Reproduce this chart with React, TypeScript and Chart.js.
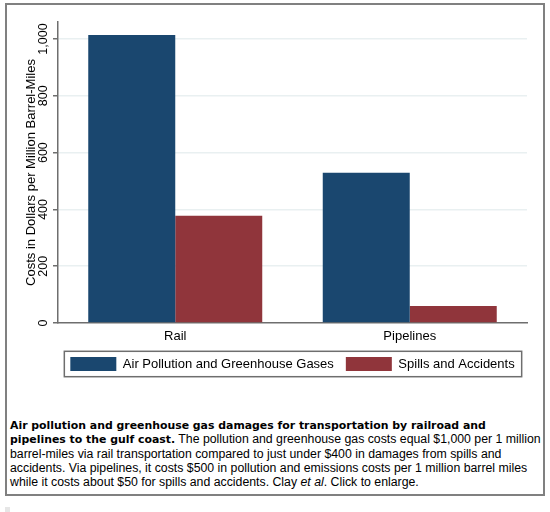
import React, { useEffect, useRef } from "react";
import { Chart, registerables } from "chart.js";

Chart.register(...registerables);

// ---- data ----
const categories = ["Rail", "Pipelines"];
const airPollutionValues = [1014, 529];
const spillsValues = [378, 60];
const seriesNames = ["Air Pollution and Greenhouse Gases", "Spills and Accidents"];
const yTickValues = [0, 200, 400, 600, 800, 1000];
const yAxisMax = 1060;
const yAxisTitle = "Costs in Dollars per Million Barrel-Miles";

// ---- styles ----
const NAVY = "#1a476f";
const MAROON = "#90353b";
const AXIS = "#6e6e6e";
const GRID = "#e9f0f1";
const FONT = "'Liberation Sans', Arial, Helvetica, sans-serif";

const legendFrame = {
  id: "legendFrame",
  afterDraw(chart: any) {
    const lg = chart.legend;
    const boxes = lg && lg.legendHitBoxes;
    if (!boxes || !boxes.length) return;
    const ctx = chart.ctx;
    const left = Math.min(...boxes.map((b: any) => b.left)) - 6;
    const right = Math.max(...boxes.map((b: any) => b.left + b.width)) + 7;
    const cy = boxes[0].top + boxes[0].height / 2;
    ctx.save();
    ctx.strokeStyle = AXIS;
    ctx.lineWidth = 1.5;
    ctx.strokeRect(left, cy - 12.7, right - left, 25.4);
    ctx.restore();
  },
};

const boldStyle: React.CSSProperties = {
  fontFamily: "'DejaVu Sans', sans-serif",
  fontWeight: "bold",
  fontSize: "10.9px",
};
const regStyle: React.CSSProperties = {
  fontFamily: FONT,
  fontSize: "12.3px",
};
const lineStyle: React.CSSProperties = { height: "14.3px", lineHeight: "14.3px" };

export default function App() {
  const ref = useRef<HTMLCanvasElement>(null);
  useEffect(() => {
    const chart = new Chart(ref.current as HTMLCanvasElement, {
      type: "bar",
      data: {
        labels: categories,
        datasets: [
          {
            label: seriesNames[0],
            data: airPollutionValues,
            backgroundColor: NAVY,
            borderWidth: 0,
            categoryPercentage: 0.742,
            barPercentage: 1,
          },
          {
            label: seriesNames[1],
            data: spillsValues,
            backgroundColor: MAROON,
            borderWidth: 0,
            categoryPercentage: 0.742,
            barPercentage: 1,
          },
        ],
      },
      options: {
        responsive: false,
        animation: false,
        devicePixelRatio: 1,
        layout: { padding: { left: 18, right: 23, top: 22, bottom: 9 } },
        plugins: {
          legend: {
            position: "bottom",
            fullSize: false,
            labels: {
              boxWidth: 46,
              boxHeight: 14,
              padding: 12,
              color: "#000",
              font: { family: FONT, size: 13 },
            },
          },
          tooltip: { enabled: false },
        },
        scales: {
          x: {
            grid: { display: false, drawTicks: false },
            border: { display: true, color: AXIS, width: 1.5 },
            ticks: { color: "#000", font: { family: FONT, size: 13 }, padding: 6 },
            afterFit: (s: any) => {
              s.height = 22;
            },
          },
          y: {
            min: 0,
            max: yAxisMax,
            afterBuildTicks: (s: any) => {
              s.ticks = yTickValues.map((v) => ({ value: v }));
            },
            afterFit: (s: any) => {
              s.width = 40;
            },
            grid: {
              color: (c: any) => (c.tick && c.tick.value === 0 ? "rgba(0,0,0,0)" : GRID),
              lineWidth: 1.5,
              tickColor: AXIS,
              tickLength: 5,
              tickWidth: 1.5,
            },
            border: { color: AXIS, width: 1.5 },
            ticks: {
              minRotation: 90,
              maxRotation: 90,
              crossAlign: "center",
              padding: -6,
              color: "#000",
              font: { family: FONT, size: 12.5 },
              callback: (v: any) => Number(v).toLocaleString("en-US"),
            },
            title: {
              display: true,
              text: yAxisTitle,
              color: "#000",
              font: { family: FONT, size: 13 },
              padding: { top: 6, bottom: 0 },
            },
          },
        },
      } as any,
      plugins: [legendFrame],
    });
    return () => chart.destroy();
  }, []);

  return (
    <div>
      <div
        style={{
          position: "absolute",
          left: 5,
          top: 3,
          width: 540,
          height: 493,
          border: "2px solid #808080",
          boxSizing: "border-box",
          background: "#fff",
        }}
      />
      <canvas
        ref={ref}
        width={550}
        height={390}
        style={{ position: "absolute", left: 0, top: 0, width: 550, height: 390 }}
      />
      <div
        style={{
          position: "absolute",
          left: 10,
          top: 418,
          whiteSpace: "nowrap",
          color: "#000",
          ...regStyle,
        }}
      >
        <div style={lineStyle}>
          <span style={boldStyle}>
            Air pollution and greenhouse gas damages for transportation by railroad and
          </span>
        </div>
        <div style={lineStyle}>
          <span style={boldStyle}>pipelines to the gulf coast.</span>
          <span style={regStyle}> The pollution and greenhouse gas costs equal $1,000 per 1 million</span>
        </div>
        <div style={lineStyle}>
          barrel-miles via rail transportation compared to just under $400 in damages from spills and
        </div>
        <div style={lineStyle}>
          accidents. Via pipelines, it costs $500 in pollution and emissions costs per 1 million barrel miles
        </div>
        <div style={lineStyle}>
          while it costs about $50 for spills and accidents. Clay <i>et al</i>. Click to enlarge.
        </div>
      </div>
      <div
        style={{ position: "absolute", left: 5, top: 507, width: 5, height: 5, background: "#e6e6e6" }}
      />
    </div>
  );
}
